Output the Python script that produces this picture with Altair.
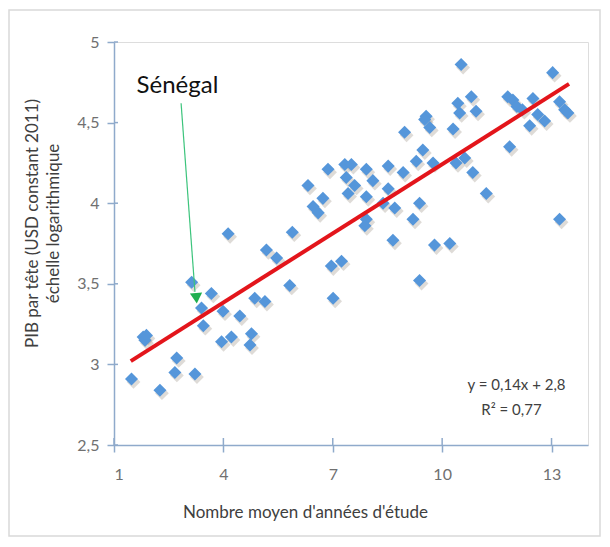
import altair as alt
import pandas as pd

# Mean years of schooling vs. log GDP per capita
years = [1.48, 2.26, 1.80, 1.85, 1.89, 2.72, 2.67, 3.22, 3.13, 3.40, 3.45, 3.67,
         3.99, 4.45, 3.95, 4.22, 4.77, 4.73, 4.86, 5.14, 4.13, 5.18, 5.46, 5.82,
         5.89, 6.32, 6.46, 6.60, 6.73, 6.87, 6.96, 7.24, 7.01, 7.33, 7.51, 7.37,
         7.60, 7.42, 7.92, 8.10, 7.92, 7.92, 7.88, 8.52, 8.93, 8.52, 8.38, 8.70,
         9.38, 9.20, 8.65, 9.79, 10.21, 9.38, 9.29, 9.47, 9.75, 9.56, 9.66, 8.97,
         9.52, 10.30, 10.38, 10.62, 10.84, 11.21, 10.52, 10.43, 10.80, 10.93, 10.48,
         11.80, 11.94, 12.05, 11.85, 12.20, 12.49, 12.62, 12.40, 12.81, 13.03,
         13.22, 13.36, 13.45, 13.22]
gdp_log = [2.91, 2.84, 3.17, 3.15, 3.18, 3.04, 2.95, 2.94, 3.51, 3.35, 3.24, 3.44,
           3.33, 3.30, 3.14, 3.17, 3.19, 3.12, 3.41, 3.39, 3.81, 3.71, 3.66, 3.49,
           3.82, 4.11, 3.98, 3.94, 4.03, 4.21, 3.61, 3.64, 3.41, 4.24, 4.24, 4.16,
           4.11, 4.06, 4.21, 4.14, 4.04, 3.90, 3.86, 4.23, 4.19, 4.09, 4.00, 3.97,
           4.00, 3.90, 3.77, 3.74, 3.75, 3.52, 4.26, 4.33, 4.25, 4.54, 4.47, 4.44,
           4.52, 4.46, 4.25, 4.28, 4.19, 4.06, 4.86, 4.62, 4.66, 4.57, 4.56,
           4.66, 4.64, 4.60, 4.35, 4.58, 4.65, 4.55, 4.48, 4.51, 4.81,
           4.63, 4.58, 4.56, 3.90]

# Trend line end points
trend_x = [1.46, 13.48]
trend_y = [3.02, 4.74]

# Annotation
label_text = ["Sénégal"]
label_pos = [2.74, 4.73]
arrow_start = [2.84, 4.62]
arrow_end = [3.22, 3.45]
arrow_head = [3.26, 3.41]

eq_text = ["y = 0,14x + 2,8", "R² = 0,77"]
eq_x = [12.04, 11.90]
eq_y = [2.87, 2.72]

x_ticks = [1, 4, 7, 10, 13]
y_ticks = [2.5, 3, 3.5, 4, 4.5, 5]

W, H = 474, 403
AXIS_COLOR = "#8FAACB"
FONT = "Lato"

pts = pd.DataFrame({"x": years, "y": gdp_log})
trend = pd.DataFrame({"x": trend_x, "y": trend_y})
arrow = pd.DataFrame({"x": [arrow_start[0]], "y": [arrow_start[1]],
                      "x2": [arrow_end[0]], "y2": [arrow_end[1]]})
head = pd.DataFrame({"x": [arrow_head[0]], "y": [arrow_head[1]]})
lab = pd.DataFrame({"x": [label_pos[0]], "y": [label_pos[1]], "t": label_text})
eq = pd.DataFrame({"x": eq_x, "y": eq_y, "t": eq_text})
xt = pd.DataFrame({"x": x_ticks})
yt = pd.DataFrame({"y": y_ticks})

xscale = alt.Scale(domain=[1, 14], nice=False, zero=False)
yscale = alt.Scale(domain=[2.5, 5], nice=False, zero=False)

x_axis = alt.Axis(values=x_ticks, title="Nombre moyen d'années d'étude",
                  grid=False, domainColor=AXIS_COLOR, domainWidth=1.5,
                  tickColor=AXIS_COLOR, tickWidth=1.5, tickSize=7,
                  labelFont=FONT, labelFontSize=16, labelColor="#707070",
                  labelPadding=14, format="~g",
                  labelExpr="replace(datum.label, '.', ',')",
                  titleFont=FONT, titleFontSize=17, titleFontWeight="normal",
                  titleColor="#404040", titleX=191, titleY=67,
                  titleBaseline="middle", titleAlign="center")
y_axis = alt.Axis(values=y_ticks,
                  title=["PIB par tête (USD constant 2011)", "échelle logarithmique"],
                  grid=False, domainColor=AXIS_COLOR, domainWidth=1.5,
                  tickColor=AXIS_COLOR, tickWidth=1.5, tickSize=7,
                  labelFont=FONT, labelFontSize=16, labelColor="#707070",
                  labelPadding=8, format="~g",
                  labelExpr="replace(datum.label, '.', ',')",
                  titleFont=FONT, titleFontSize=17, titleFontWeight="normal",
                  titleColor="#404040", titleAngle=270, titleX=-82, titleY=181,
                  titleBaseline="middle", titleAlign="center", titleLineHeight=21)

X = alt.X("x:Q", scale=xscale, axis=x_axis)
Y = alt.Y("y:Q", scale=yscale, axis=y_axis)

frame = alt.Chart(alt.Data(values=[{}])).mark_rect(
    fill=None, stroke="#D9D9D9", strokeWidth=1.5, clip=False
).encode(x=alt.value(-105), x2=alt.value(486), y=alt.value(-32), y2=alt.value(494))

shadow = alt.Chart(pts).mark_point(
    shape="diamond", filled=True, size=190, color="#8A7F70", opacity=0.28,
    xOffset=2, yOffset=3
).encode(x=X, y=Y)

points = alt.Chart(pts).mark_point(
    shape="diamond", filled=True, size=170, color="#5596DA", opacity=1
).encode(x=X, y=Y)

line = alt.Chart(trend).mark_line(color="#E3151B", strokeWidth=4).encode(x=X, y=Y)

arrow_line = alt.Chart(arrow).mark_rule(color="#3CC47C", strokeWidth=1.2).encode(
    x=X, y=Y, x2="x2:Q", y2="y2:Q")
arrow_tip = alt.Chart(head).mark_point(
    shape="triangle-down", filled=True, size=150, color="#1FAF4F", opacity=1, angle=356
).encode(x=X, y=Y)

label = alt.Chart(lab).mark_text(
    font=FONT, fontSize=24, color="#111111", align="center", baseline="middle"
).encode(x=X, y=Y, text="t:N")

eq_txt = alt.Chart(eq).mark_text(
    font=FONT, fontSize=15, color="#404040", align="center", baseline="middle"
).encode(x=X, y=Y, text="t:N")

xtick_in = alt.Chart(xt).mark_rule(color=AXIS_COLOR, strokeWidth=1.5).encode(
    x=X, y=alt.value(H - 7), y2=alt.value(H))
ytick_in = alt.Chart(yt).mark_rule(color=AXIS_COLOR, strokeWidth=1.5).encode(
    y=Y, x=alt.value(0), x2=alt.value(4))

chart = alt.layer(
    frame, xtick_in, ytick_in, shadow, points, line, arrow_line, arrow_tip, label, eq_txt
).properties(
    width=W, height=H,
    autosize=alt.AutoSizeParams(type="none"),
    padding={"left": 106, "top": 34, "right": 14, "bottom": 92},
).configure_view(stroke=None).configure(background="white")

chart.save("out.html", embed_options={"renderer": "svg", "actions": False})
